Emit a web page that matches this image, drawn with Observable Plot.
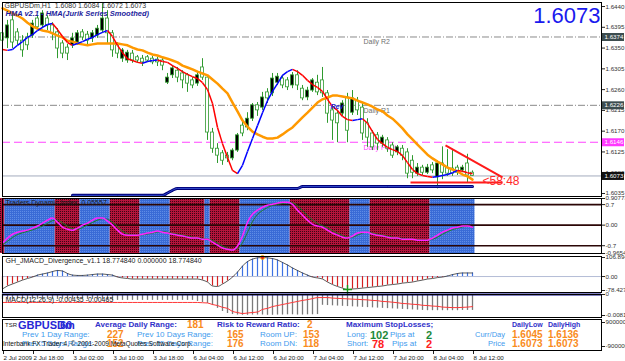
<!DOCTYPE html>
<html><head><meta charset="utf-8">
<script src="https://cdn.jsdelivr.net/npm/d3@7"></script>
<script src="https://cdn.jsdelivr.net/npm/@observablehq/plot@0.6"></script>
<style>
body{margin:0;background:#fff;width:625px;height:361px;overflow:hidden;position:relative;font-family:"Liberation Sans",Arial,sans-serif}
.p{position:absolute;left:0}
.p svg{display:block;overflow:visible}
.t{position:absolute;white-space:nowrap;line-height:1}
.b{font-weight:bold;color:#3131c9;font-size:8px}
.lb{color:#3f9bee;font-size:8px}
.or{color:#f98b1c;font-weight:bold;font-size:10px}
</style></head><body>
<svg width="0" height="0" style="position:absolute"><defs>
<pattern id="redPat" width="2" height="2" patternUnits="userSpaceOnUse"><rect width="2" height="2" fill="#b5143b"/><rect width="1" height="1" fill="#3a0615"/></pattern>
<pattern id="bluePat" width="2" height="2" patternUnits="userSpaceOnUse"><rect width="2" height="2" fill="#3a6bd6"/><rect width="1" height="1" fill="#5f8ce6"/></pattern>
</defs></svg>
<div id="main" class="p" style="top:0"></div>
<div id="tdi" class="p" style="top:197px"></div>
<div id="jmacd" class="p" style="top:255px"></div>
<div id="macd" class="p" style="top:293px"></div>
<div id="info" class="p" style="top:318px"></div>
<div id="time" class="p" style="top:350px"></div>
<div id="infoText"></div>
<script>
// ---------- DATA ----------
const barOpen = [1.6382,1.6371,1.6410,1.6384,1.6366,1.6373,1.6377,1.6414,1.6399,1.6414,
1.6399,1.6384,1.6360,1.6351,1.6356,1.6362,1.6384,1.6379,1.6371,1.6377,
1.6388,1.6414,1.6382,1.6356,1.6327,1.6323,1.6338,1.6330,1.6327,1.6330,
1.6327,1.6325,1.6323,1.6275,1.6291,1.6301,1.6295,1.6291,1.6280,1.6273,
1.6308,1.6286,1.6167,1.6132,1.6122,1.6117,1.6111,1.6128,1.6182,1.6178,
1.6197,1.6226,1.6221,1.6254,1.6252,1.6275,1.6284,1.6280,1.6269,1.6291,
1.6262,1.6243,1.6258,1.6275,1.6280,1.6252,1.6215,1.6208,1.6208,1.6243,
1.6210,1.6236,1.6221,1.6187,1.6165,1.6161,1.6143,1.6150,1.6139,1.6124,
1.6132,1.6124,1.6106,1.6078,1.6091,1.6080,1.6096,1.6070,1.6100,1.6091,
1.6089,1.6091,1.6085,1.6100,1.6080];
const barHigh = [1.6392,1.6410,1.6427,1.6392,1.6377,1.6382,1.6410,1.6420,1.6431,1.6420,
1.6405,1.6392,1.6366,1.6358,1.6382,1.6388,1.6390,1.6386,1.6388,1.6399,
1.6446,1.6431,1.6388,1.6362,1.6349,1.6345,1.6345,1.6334,1.6334,1.6334,
1.6332,1.6330,1.6327,1.6295,1.6312,1.6308,1.6301,1.6295,1.6286,1.6297,
1.6327,1.6291,1.6176,1.6143,1.6128,1.6124,1.6132,1.6165,1.6193,1.6210,
1.6230,1.6232,1.6254,1.6262,1.6295,1.6295,1.6291,1.6286,1.6297,1.6301,
1.6269,1.6265,1.6284,1.6291,1.6308,1.6258,1.6221,1.6215,1.6236,1.6252,
1.6258,1.6243,1.6230,1.6197,1.6171,1.6167,1.6161,1.6156,1.6145,1.6139,
1.6139,1.6132,1.6117,1.6100,1.6096,1.6098,1.6102,1.6106,1.6136,1.6130,
1.6128,1.6096,1.6096,1.6120,1.6084];
const barLow = [1.6356,1.6349,1.6349,1.6356,1.6330,1.6345,1.6371,1.6388,1.6392,1.6388,
1.6366,1.6327,1.6327,1.6323,1.6349,1.6356,1.6366,1.6356,1.6362,1.6371,
1.6382,1.6360,1.6330,1.6327,1.6319,1.6317,1.6317,1.6317,1.6310,1.6319,
1.6314,1.6310,1.6301,1.6271,1.6284,1.6275,1.6262,1.6254,1.6262,1.6267,
1.6280,1.6150,1.6122,1.6100,1.6096,1.6102,1.6106,1.6124,1.6158,1.6171,
1.6191,1.6202,1.6215,1.6230,1.6245,1.6269,1.6262,1.6258,1.6262,1.6258,
1.6236,1.6236,1.6254,1.6247,1.6243,1.6187,1.6150,1.6145,1.6202,1.6145,
1.6204,1.6204,1.6150,1.6135,1.6128,1.6128,1.6135,1.6124,1.6111,1.6117,
1.6106,1.6067,1.6067,1.6072,1.6074,1.6076,1.6078,1.6045,1.6065,1.6072,
1.6072,1.6074,1.6080,1.6057,1.6072];
const barClose = [1.6366,1.6399,1.6362,1.6366,1.6345,1.6356,1.6403,1.6395,1.6425,1.6399,
1.6382,1.6349,1.6338,1.6338,1.6371,1.6382,1.6373,1.6366,1.6382,1.6392,
1.6414,1.6382,1.6345,1.6338,1.6345,1.6340,1.6323,1.6323,1.6319,1.6323,
1.6319,1.6319,1.6312,1.6286,1.6306,1.6286,1.6280,1.6273,1.6269,1.6291,
1.6286,1.6167,1.6132,1.6117,1.6106,1.6111,1.6128,1.6161,1.6165,1.6197,
1.6226,1.6215,1.6243,1.6241,1.6284,1.6288,1.6269,1.6265,1.6291,1.6269,
1.6241,1.6258,1.6280,1.6254,1.6252,1.6208,1.6193,1.6187,1.6230,1.6171,
1.6241,1.6215,1.6165,1.6156,1.6135,1.6143,1.6156,1.6132,1.6117,1.6135,
1.6117,1.6078,1.6080,1.6091,1.6080,1.6091,1.6085,1.6100,1.6080,1.6078,
1.6078,1.6080,1.6091,1.6074,1.6073];
const hmaValues = [1.6347,1.6345,1.6347,1.6356,1.6364,1.6373,1.6379,1.6388,1.6395,1.6401,
1.6403,1.6390,1.6375,1.6362,1.6356,1.6360,1.6364,1.6369,1.6373,1.6379,
1.6384,1.6388,1.6375,1.6356,1.6340,1.6327,1.6323,1.6319,1.6317,1.6321,
1.6323,1.6324,1.6321,1.6319,1.6312,1.6306,1.6299,1.6293,1.6288,1.6284,
1.6275,1.6260,1.6230,1.6178,1.6143,1.6113,1.6085,1.6078,1.6096,1.6126,
1.6154,1.6182,1.6210,1.6236,1.6256,1.6273,1.6291,1.6299,1.6304,1.6299,
1.6291,1.6280,1.6271,1.6265,1.6256,1.6239,1.6223,1.6215,1.6202,1.6195,
1.6193,1.6195,1.6197,1.6187,1.6169,1.6152,1.6143,1.6135,1.6130,1.6126,
1.6117,1.6102,1.6087,1.6078,1.6074,1.6072,1.6070,1.6072,1.6074,1.6076,
1.6080,1.6085,1.6083,1.6080,1.6078];
const slowMaValues = [1.6436,1.6431,1.6425,1.6420,1.6414,1.6405,1.6397,1.6392,1.6388,1.6386,
1.6382,1.6377,1.6373,1.6366,1.6364,1.6360,1.6358,1.6356,1.6358,1.6360,
1.6360,1.6360,1.6360,1.6360,1.6358,1.6356,1.6351,1.6347,1.6345,1.6340,
1.6336,1.6334,1.6330,1.6327,1.6323,1.6319,1.6312,1.6308,1.6304,1.6299,
1.6295,1.6291,1.6282,1.6273,1.6262,1.6252,1.6232,1.6213,1.6193,1.6180,
1.6169,1.6163,1.6158,1.6154,1.6154,1.6156,1.6163,1.6171,1.6178,1.6189,
1.6200,1.6210,1.6221,1.6232,1.6239,1.6243,1.6247,1.6247,1.6245,1.6243,
1.6241,1.6236,1.6232,1.6228,1.6223,1.6217,1.6213,1.6204,1.6197,1.6187,
1.6176,1.6163,1.6152,1.6141,1.6130,1.6119,1.6111,1.6104,1.6098,1.6091,
1.6087,1.6083,1.6076,1.6072,1.6065];
const supportBars   = [14,32,33,34,35,59,60,94];
const supportValues = [1.6031,1.6031,1.6036,1.6042,1.6046,1.6046,1.6050,1.6050];
const dailyLevels = [1.6374, 1.6226, 1.6146];
const dailyNames  = ["Daily R2", "Daily R1", "Daily Pivot"];
const lastPrice = 1.6073;
const priceTicks = [1.6440,1.6395,1.6350,1.6305,1.6260,1.6215,1.6170,1.6125,1.6080,1.6035];
const trendBars = [88.6, 100], trendPrices = [1.6139, 1.6070];
const floorBars = [81.6, 100], floorPrices = [1.6059, 1.6059];
const timerText = "<58:48", timerBar = 96, timerPrice = 1.6062;
const revBar = 65.6, revPrice = 1.6222;
const chartTitle = "GBPUSDm,H1  1.6080 1.6084 1.6072 1.6073";
const hmaTitle = "HMA v2.1 - HMA(Jurik Series Smoothed)";

const tdiBlockStart = [0,1,11,16,22,28,34,41,42,48,58,70,74,86];
const tdiBlockEnd   = [0,10,15,21,27,33,40,41,47,57,69,73,85,94];
const tdiBlockUp    = [0,1,0,1,0,1,0,1,0,1,0,1,0,1];
const tdiFast = [-0.61,-0.44,-0.31,-0.24,-0.20,-0.17,-0.10,-0.03,0.07,0.17,
0.24,0.10,-0.07,-0.14,-0.17,-0.10,0.00,0.07,0.17,0.24,
0.24,0.14,0.00,-0.17,-0.31,-0.34,-0.34,-0.34,-0.31,-0.27,
-0.24,-0.20,-0.24,-0.27,-0.31,-0.34,-0.37,-0.41,-0.44,-0.44,
-0.48,-0.48,-0.58,-0.68,-0.78,-0.82,-0.85,-0.71,-0.37,0.10,
0.37,0.51,0.61,0.68,0.71,0.75,0.78,0.78,0.71,0.51,
0.34,0.17,0.03,-0.03,-0.07,-0.17,-0.27,-0.34,-0.41,-0.44,
-0.37,-0.27,-0.24,-0.24,-0.31,-0.34,-0.37,-0.41,-0.44,-0.44,
-0.48,-0.48,-0.48,-0.51,-0.51,-0.51,-0.44,-0.34,-0.24,-0.17,
-0.10,-0.07,-0.03,-0.03,-0.07];
const tdiSlow = [-0.66,-0.55,-0.42,-0.32,-0.26,-0.21,-0.16,-0.10,-0.03,0.06,
0.15,0.17,0.08,-0.04,-0.12,-0.14,-0.08,0.01,0.09,0.17,
0.22,0.20,0.10,-0.05,-0.20,-0.30,-0.33,-0.34,-0.33,-0.30,
-0.27,-0.23,-0.22,-0.24,-0.28,-0.31,-0.34,-0.38,-0.41,-0.43,
-0.45,-0.47,-0.52,-0.61,-0.71,-0.79,-0.83,-0.80,-0.60,-0.25,
0.12,0.36,0.50,0.60,0.67,0.71,0.74,0.77,0.76,0.66,
0.50,0.33,0.18,0.06,-0.02,-0.09,-0.19,-0.28,-0.35,-0.41,
-0.41,-0.34,-0.27,-0.24,-0.27,-0.31,-0.34,-0.38,-0.41,-0.43,
-0.45,-0.47,-0.48,-0.49,-0.50,-0.51,-0.48,-0.41,-0.31,-0.22,
-0.15,-0.10,-0.06,-0.04,-0.05];
const tdiLevels = [0.7, 0, -0.7];
const tdiRange = [-0.9654, 0.90773];
const tdiTicks = [0.90773, 0.7, 0, -0.7, -0.9654];
const tdiTickLabels = ["0.90773", "0.7", "0.00", "-0.7", "-0.9654"];
const tdiTitle = "Traders Dynamic Index  0.05557";

const jmacdValues = [-70,-53,-42,-31,-20,-11,-3,8,14,20,
28,34,31,17,8,6,6,8,11,14,
14,11,8,-3,-8,-11,-14,-14,-14,-14,
-14,-14,-14,-14,-14,-14,-14,-14,-14,-14,
-20,-31,-53,-56,-42,-25,-3,25,59,84,
98,105,107,105,101,93,79,65,48,34,
20,8,-3,-8,-14,-31,-45,-56,-65,-73,
-70,-68,-65,-62,-59,-56,-53,-48,-45,-42,
-37,-34,-31,-25,-20,-14,-11,-6,-3,3,
11,17,20,20,20];
const jmacdRange = [-78.4277, 106.894];
const jmacdTicks = [106.894, 0, -78.4277];
const jmacdTickLabels = ["106.894", "0.00", "-78.4277"];
const jmacdTitle = "GH_JMACD_Divergence_v1.1 18.774840 0.000000 18.774840";
const jmacdPeakBar = 52, jmacdTroughBar = 69;

const macdValues = [-0.0019,-0.0019,-0.0019,-0.0019,-0.0019,-0.0019,-0.0019,-0.0019,-0.0019,-0.0019,
-0.0019,-0.0019,-0.0019,-0.0019,-0.0019,-0.0019,-0.0019,-0.0019,-0.0019,-0.0019,
-0.0019,-0.0023,-0.0023,-0.0023,-0.0023,-0.0023,-0.0023,-0.0023,-0.0023,-0.0023,
-0.0023,-0.0023,-0.0023,-0.0023,-0.0023,-0.0023,-0.0023,-0.0023,-0.0023,-0.0027,
-0.0031,-0.0035,-0.0043,-0.0054,-0.0066,-0.0074,-0.0078,-0.0080,-0.0081,-0.0081,
-0.0080,-0.0080,-0.0080,-0.0081,-0.0081,-0.0080,-0.0080,-0.0079,-0.0079,-0.0080,
-0.0080,-0.0079,-0.0079,-0.0078,-0.0042,-0.0043,-0.0044,-0.0045,-0.0046,-0.0047,
-0.0048,-0.0049,-0.0050,-0.0051,-0.0052,-0.0053,-0.0054,-0.0055,-0.0056,-0.0057,
-0.0058,-0.0059,-0.0060,-0.0061,-0.0062,-0.0063,-0.0063,-0.0063,-0.0063,-0.0063,
-0.0063,-0.0063,-0.0062,-0.0062,-0.0062];
const macdSignal = [-0.0031,-0.0031,-0.0031,-0.0031,-0.0031,-0.0031,-0.0031,-0.0031,-0.0031,-0.0031,
-0.0031,-0.0031,-0.0031,-0.0031,-0.0031,-0.0031,-0.0031,-0.0031,-0.0031,-0.0031,
-0.0031,-0.0031,-0.0031,-0.0031,-0.0031,-0.0031,-0.0031,-0.0031,-0.0031,-0.0031,
-0.0031,-0.0031,-0.0031,-0.0031,-0.0031,-0.0031,-0.0031,-0.0031,-0.0031,-0.0031,
-0.0032,-0.0033,-0.0039,-0.0043,-0.0050,-0.0054,-0.0066,-0.0070,-0.0074,-0.0072,
-0.0070,-0.0068,-0.0058,-0.0054,-0.0047,-0.0043,-0.0039,-0.0035,-0.0031,-0.0027,
-0.0023,-0.0020,-0.0016,-0.0012,-0.0012,-0.0012,-0.0014,-0.0015,-0.0016,-0.0017,
-0.0018,-0.0019,-0.0020,-0.0021,-0.0023,-0.0024,-0.0027,-0.0028,-0.0030,-0.0032,
-0.0035,-0.0036,-0.0038,-0.0039,-0.0042,-0.0043,-0.0045,-0.0046,-0.0049,-0.0050,
-0.0051,-0.0051,-0.0050,-0.0049,-0.0047];
const macdRange = [-0.00817, 0];
const macdTicks = [0, -0.00817];
const macdTickLabels = ["0", "-0.00817"];
const macdTitle = "MACD(12,26,9) -0.00435 -0.00465";

const infoRange = [-900000, 900000];
const infoTickLabels = ["900000", "-900000"];
const rangeValues = {adr: 181, rr: 2, prev1: 227, prev5: 152, prev10: 165, prev15: 176, roomUp: 153, roomDn: 118,
  longPips: 102, longAt: 2, shortPips: 78, shortAt: 2};
const dayLow = 1.6045, dayHigh = 1.6136, priceLow = 1.6073, priceHigh = 1.6073;

const tickBars = [0,6,14,22,30,38,46,54,62,70,78,86,94];
const tickLabels = ["2 Jul 2009","2 Jul 18:00","3 Jul 02:00","3 Jul 10:00","3 Jul 18:00","6 Jul 04:00",
  "6 Jul 12:00","6 Jul 20:00","7 Jul 04:00","7 Jul 12:00","7 Jul 20:00","8 Jul 04:00","8 Jul 12:00"];

// ---------- BUILD ----------
const FONT = "Liberation Sans, Arial, sans-serif";
const AX = 6.2;
const xDomain = [0, 119.8];
function panel(opts) {
  return Plot.plot(Object.assign({
    width: 625, marginLeft: 2, marginRight: 24,
    x: {domain: xDomain, axis: null},
    color: {type: "identity"},
    style: {fontFamily: FONT, fontSize: "7px", background: "transparent", overflow: "visible", color: "#222"}
  }, opts));
}
function rightAxis(ticks, fmt) {
  return Plot.axisY(ticks, {anchor: "right", tickSize: 3, tickPadding: 1, tickFormat: fmt, label: null, fontSize: AX, fill: "#333"});
}
const bars = barOpen.map((o, i) => ({i, o, h: barHigh[i], l: barLow[i], c: barClose[i]}));
const hma = hmaValues.map((v, i) => ({i, v}));
const hmaSeg = hma.slice(1).map((d, k) => ({x1: k, y1: hma[k].v, x2: d.i, y2: d.v, up: d.v >= hma[k].v}));
const slow = slowMaValues.map((v, i) => ({i, v}));
const support = supportBars.map((b, k) => ({i: b, v: supportValues[k]}));
const priceDomain = [1.60285, 1.64487];
const boxLevels = [1.6374, 1.6226, 1.6146, lastPrice];
const boxColors = ["#3d4d4f", "#3d4d4f", "#ff38ff", "#111111"];
const GREEN = "#2f9a2f";

document.getElementById("main").append(panel({
  height: 197, marginTop: 2, marginBottom: 1,
  y: {domain: priceDomain, axis: null},
  marks: [
    Plot.ruleY(dailyLevels.slice(0, 2), {stroke: "#8a8a8a", strokeDasharray: "7,2,1,2"}),
    Plot.ruleY(dailyLevels.slice(2), {stroke: "#ff44ff", strokeDasharray: "8,4"}),
    Plot.ruleY([lastPrice], {stroke: "#a3abbd"}),
    Plot.text(dailyLevels, {x: 72.2, y: d => d, text: (d, i) => dailyNames[i], dy: 5, textAnchor: "start",
      fill: (d, i) => i === 2 ? "#ff44ff" : "#707070", fontSize: 7}),
    Plot.ruleX(bars, {x: "i", y1: "l", y2: "h", stroke: GREEN, strokeWidth: 1}),
    Plot.rect(bars, {x1: d => d.i - 0.3, x2: d => d.i + 0.3, y1: "o", y2: "c",
      fill: d => d.c > d.o ? "#000" : "#fff", stroke: GREEN, strokeWidth: 0.8}),
    Plot.line(slow, {x: "i", y: "v", stroke: "#ff9900", strokeWidth: 2.5}),
    Plot.link(hmaSeg, {x1: "x1", y1: "y1", x2: "x2", y2: "y2", stroke: d => d.up ? "#0000ff" : "#ff0000", strokeWidth: 1.5}),
    Plot.line(support, {x: "i", y: "v", stroke: "#00007a", strokeWidth: 3, curve: "monotone-x"}),
    Plot.line(support, {x: "i", y: "v", stroke: "#4060e0", strokeWidth: 0.8, curve: "monotone-x"}),
    Plot.link([0], {x1: trendBars[0], y1: trendPrices[0], x2: trendBars[1], y2: trendPrices[1], stroke: "#ff1a1a", strokeWidth: 2}),
    Plot.link([0], {x1: floorBars[0], y1: floorPrices[0], x2: floorBars[1], y2: floorPrices[1], stroke: "#ff1a1a", strokeWidth: 2}),
    Plot.text([timerText], {x: timerBar, y: timerPrice, text: d => d, textAnchor: "start", fill: "#ff2a2a", fontSize: 12}),
    Plot.text(["Rev"], {x: revBar, y: revPrice, text: d => d, textAnchor: "start", fill: "#2020d0", fontSize: 7, fontWeight: "bold", fontStyle: "italic"}),
    Plot.text([chartTitle], {frameAnchor: "top-left", dx: 2, dy: 1, text: d => d, fill: "#333", fontSize: 7}),
    Plot.text([hmaTitle], {frameAnchor: "top-left", dx: 3, dy: 8, text: d => d, fill: "#1c1c9c", fontSize: 7.5, fontWeight: "bold", fontStyle: "italic"}),
    Plot.text([lastPrice], {frameAnchor: "top-right", dx: -1, dy: 5, text: d => d.toFixed(4), fill: "#1a1aee", fontSize: 22}),
    Plot.frame({stroke: "#000"}),
    rightAxis(priceTicks, d => d.toFixed(4)),
    Plot.ruleY(boxLevels, {stroke: (d, i) => boxColors[i], strokeWidth: 8, insetLeft: 600, insetRight: -23}),
    Plot.text(boxLevels, {y: d => d, text: d => d.toFixed(4), frameAnchor: "right", textAnchor: "start", dx: 3, fill: "#fff", fontSize: AX})
  ]
}));

const tdiBlocks = tdiBlockStart.map((s, k) => ({s, e: tdiBlockEnd[k], up: tdiBlockUp[k]}));
const tdiF = tdiFast.map((v, i) => ({i, v}));
const tdiS = tdiSlow.map((v, i) => ({i, v}));
document.getElementById("tdi").append(panel({
  height: 57, marginTop: 1, marginBottom: 1,
  y: {domain: tdiRange, axis: null},
  marks: [
    Plot.rect(tdiBlocks.filter(d => !d.up), {x1: d => d.s - 0.5, x2: d => d.e + 0.5, y1: tdiRange[0], y2: tdiRange[1], fill: "url(#redPat)"}),
    Plot.rect(tdiBlocks.filter(d => d.up), {x1: d => d.s - 0.5, x2: d => d.e + 0.5, y1: tdiRange[0], y2: tdiRange[1], fill: "url(#bluePat)"}),
    Plot.ruleY(tdiLevels, {stroke: "#2b0606", strokeWidth: 1.6}),
    Plot.line(tdiS, {x: "i", y: "v", stroke: "#1f7a2a", strokeWidth: 1, curve: "monotone-x"}),
    Plot.line(tdiF, {x: "i", y: "v", stroke: "#ff22ff", strokeWidth: 1.5, curve: "monotone-x"}),
    Plot.text([tdiTitle], {frameAnchor: "top-left", dx: 3, dy: 2, text: d => d, fill: "#1a1a1a", fontSize: 7}),
    Plot.frame({stroke: "#000"}),
    rightAxis(tdiTicks, d => tdiTickLabels[tdiTicks.indexOf(d)])
  ]
}));

const jm = jmacdValues.map((v, i) => ({i, v}));
document.getElementById("jmacd").append(panel({
  height: 38, marginTop: 1, marginBottom: 1,
  y: {domain: jmacdRange, range: [35, 2], axis: null},
  marks: [
    Plot.ruleY([0], {stroke: "#b4bcd6"}),
    Plot.ruleX(jm, {x: "i", y1: 0, y2: "v", stroke: d => d.v >= 0 ? "#3d72e3" : "#d42020", strokeWidth: 1.2}),
    Plot.line(jm, {x: "i", y: "v", stroke: "#333", strokeWidth: 0.8, curve: "monotone-x"}),
    Plot.dot([jmacdPeakBar], {x: d => d, y: d => jmacdValues[d], r: 2, fill: "#e02020", stroke: "#f0c000", strokeWidth: 0.8}),
    Plot.dot([jmacdTroughBar], {x: d => d, y: d => jmacdValues[d], r: 3, symbol: "plus", stroke: "#1a9a1a", strokeWidth: 1.4}),
    Plot.text([jmacdTitle], {frameAnchor: "top-left", dx: 3, dy: 2, text: d => d, fill: "#222", fontSize: 7}),
    Plot.frame({stroke: "#000"}),
    rightAxis(jmacdTicks, d => jmacdTickLabels[jmacdTicks.indexOf(d)])
  ]
}));

const mc = macdValues.map((v, i) => ({i, v}));
const ms = macdSignal.map((v, i) => ({i, v}));
document.getElementById("macd").append(panel({
  height: 25, marginTop: 1, marginBottom: 1,
  y: {domain: macdRange, range: [22, 1], axis: null},
  marks: [
    Plot.ruleX(mc, {x: "i", y1: 0, y2: "v", stroke: "#7a7a7a", strokeWidth: 1.3}),
    Plot.line(ms, {x: "i", y: "v", stroke: "#ff3838", strokeWidth: 1, curve: "monotone-x"}),
    Plot.ruleY([0], {stroke: "#000080", strokeWidth: 2}),
    Plot.text([macdTitle], {frameAnchor: "top-left", dx: 3, dy: 3, text: d => d, fill: "#222", fontSize: 7}),
    Plot.frame({stroke: "#000"}),
    rightAxis(macdTicks, d => macdTickLabels[macdTicks.indexOf(d)])
  ]
}));

document.getElementById("info").append(panel({
  height: 33, marginTop: 1, marginBottom: 1,
  y: {domain: infoRange, range: [28, 4], axis: null},
  marks: [
    Plot.frame({stroke: "#000"}),
    rightAxis(infoRange, d => d < 0 ? infoTickLabels[1] : infoTickLabels[0])
  ]
}));

document.getElementById("time").append(panel({
  height: 11, marginTop: 0, marginBottom: 10,
  marks: [
    Plot.axisX(tickBars, {anchor: "bottom", tickSize: 3, tickPadding: 1, tickFormat: d => tickLabels[tickBars.indexOf(d)], textAnchor: "start", dx: 1, label: null, fontSize: AX, fill: "#222"})
  ]
}));

// info panel text
const v = rangeValues;
const info = [
  ['TSR', 5, 322, 'font-size:6px;color:#222'],
  ['GBPUSDm', 18, 320, 'font-size:11px;font-weight:bold;color:#2727d6'],
  ['60', 60, 320, 'font-size:11px;font-weight:bold;color:#2727d6'],
  ['Average Daily Range:', 95, 321, '', 'b'],
  [String(v.adr), 187, 320, '', 'or'],
  ['Risk to Reward Ratio:', 217, 321, '', 'b'],
  [String(v.rr), 307, 320, '', 'or'],
  ['Maximum  StopLosses;', 346, 321, '', 'b'],
  ['DailyLow', 512, 321, 'font-size:7px', 'b'],
  ['DailyHigh', 548, 321, 'font-size:7px', 'b'],
  ['Prev 1 Day Range:', 22, 331, '', 'lb'],
  [String(v.prev1), 107, 330, '', 'or'],
  ['Prev 10 Days Range:', 137, 331, '', 'lb'],
  [String(v.prev10), 227, 330, '', 'or'],
  ['Room UP:', 260, 331, '', 'lb'],
  [String(v.roomUp), 303, 330, '', 'or'],
  ['Long:', 347, 331, '', 'lb'],
  [String(v.longPips), 370, 329.5, 'font-size:11px;font-weight:bold;color:#1d8a3a'],
  ['Pips at', 390, 331, '', 'lb'],
  [String(v.longAt), 426, 329.5, 'font-size:11px;font-weight:bold;color:#1d8a3a'],
  ['Curr/Day', 475, 331, 'font-size:7.5px', 'lb'],
  [dayLow.toFixed(4), 512, 330, '', 'or'],
  [dayHigh.toFixed(4), 548, 330, '', 'or'],
  ['Prev 5 Days Range:', 22, 340, '', 'lb'],
  [String(v.prev5), 107, 339, '', 'or'],
  ['Prev 15 Days Range:', 137, 340, '', 'lb'],
  [String(v.prev15), 227, 339, '', 'or'],
  ['Room DN:', 260, 340, '', 'lb'],
  [String(v.roomDn), 303, 339, '', 'or'],
  ['Short:', 347, 340, '', 'lb'],
  [String(v.shortPips), 372, 338.5, 'font-size:11px;font-weight:bold;color:#ff2020'],
  ['Pips at', 392, 340, '', 'lb'],
  [String(v.shortAt), 426, 338.5, 'font-size:11px;font-weight:bold;color:#ff2020'],
  ['Price', 488, 340, 'font-size:7.5px', 'lb'],
  [priceLow.toFixed(4), 512, 339, '', 'or'],
  [priceHigh.toFixed(4), 548, 339, '', 'or'],
  ['Interbank FX Trader 4, \u00a9 2001-2009 MetaQuotes Software Corp.', 3, 341, 'font-size:6.6px;color:#111']
];
const holder = document.getElementById("infoText");
for (const [t, x, y, st, cls] of info) {
  const s = document.createElement("span");
  s.className = "t" + (cls ? " " + cls : "");
  s.textContent = t;
  s.style.cssText += `left:${x}px;top:${y}px;` + st;
  holder.append(s);
}
</script>
</body></html>
